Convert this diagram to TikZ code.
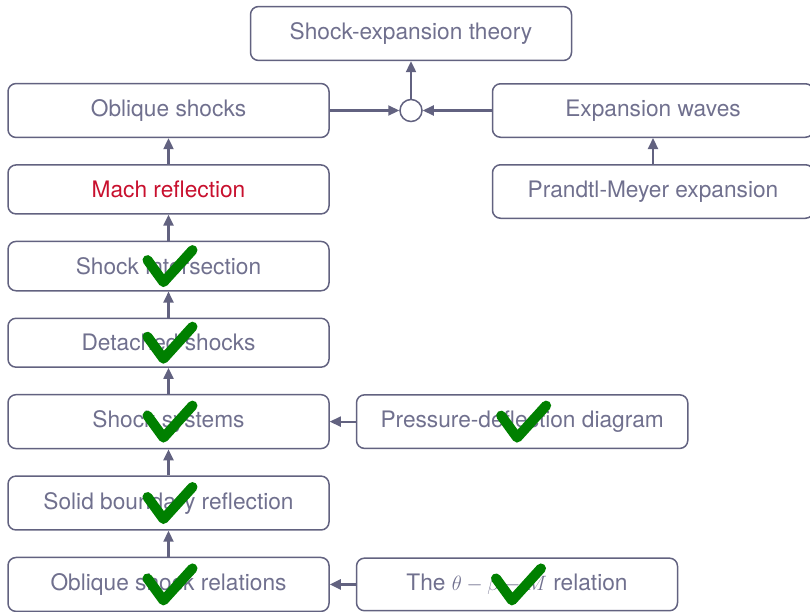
\documentclass[tikz,border=0pt]{standalone}
\usepackage{fontspec}
\setmainfont{TeX Gyre Heros}
\usetikzlibrary{positioning, arrows.meta}

\definecolor{edgecol}{RGB}{98,98,128}
\definecolor{textcol}{RGB}{112,112,142}
\definecolor{machred}{RGB}{200,16,46}
\definecolor{tickgreen}{RGB}{0,128,0}

% green tick drawn over a finished topic
\newcommand{\donemark}[1]{\draw[tick] ([shift={(-21,-6)}]#1.center) -- ++(16,22) -- ++(29,-32);}

\begin{document}
\begin{tikzpicture}[x=1pt, y=-1pt,
    box/.style={draw=edgecol, line width=1.5pt, rounded corners=8pt, text=textcol,
        minimum width=321pt, inner xsep=24pt, inner ysep=16pt,
        font=\fontsize{22.7}{27}\selectfont},
    meetdot/.style={draw=edgecol, line width=1.5pt, circle, minimum size=22pt, inner sep=0pt},
    arr/.style={draw=edgecol, line width=2.2pt, -{Triangle[length=11pt,width=10pt]}},
    tick/.style={draw=tickgreen, line width=10pt, line cap=round, line join=round}]
    \useasboundingbox (0,0) rectangle (810,611);
    \clip (0,0) rectangle (810,611);

    \node[box] (theory) at (411,33.5) {Shock-expansion theory};
    \node[box] (obl) at (168.5,110.5) {Oblique shocks};
    \node[meetdot] (meet) at (411,110.5) {};
    \node[box] (exp) at (653,110.5) {Expansion waves};
    \node[box, below=26pt of exp] (pm) {Prandtl-Meyer expansion};

    % left column
    \node[box, below=26pt of obl] (mach) {\textcolor{machred}{Mach reflection}};
    \node[box, below=26pt of mach] (inter) {Shock intersection};
    \node[box, below=26pt of inter] (det) {Detached shocks};
    \node[box, below=26pt of det] (sys) {Shock systems};
    \node[box, below=26pt of sys] (solid) {Solid boundary reflection};
    \node[box, below=26pt of solid] (rel) {Oblique shock relations};

    % right column
    \node[box, right=26pt of sys] (pdd) {Pressure-deflection diagram};
    \node[box, right=26pt of rel] (tbm) {The $\theta-\beta-M$ relation};

    \draw[arr] (obl) -- (meet);
    \draw[arr] (exp) -- (meet);
    \draw[arr] (meet) -- (theory);
    \draw[arr] (pm) -- (exp);
    \draw[arr] (mach) -- (obl);
    \draw[arr] (inter) -- (mach);
    \draw[arr] (det) -- (inter);
    \draw[arr] (sys) -- (det);
    \draw[arr] (solid) -- (sys);
    \draw[arr] (rel) -- (solid);
    \draw[arr] (pdd) -- (sys);
    \draw[arr] (tbm) -- (rel);

    \donemark{inter}
    \donemark{det}
    \donemark{sys}
    \donemark{solid}
    \donemark{rel}
    \donemark{pdd}
    \donemark{tbm}
\end{tikzpicture}
\end{document}
